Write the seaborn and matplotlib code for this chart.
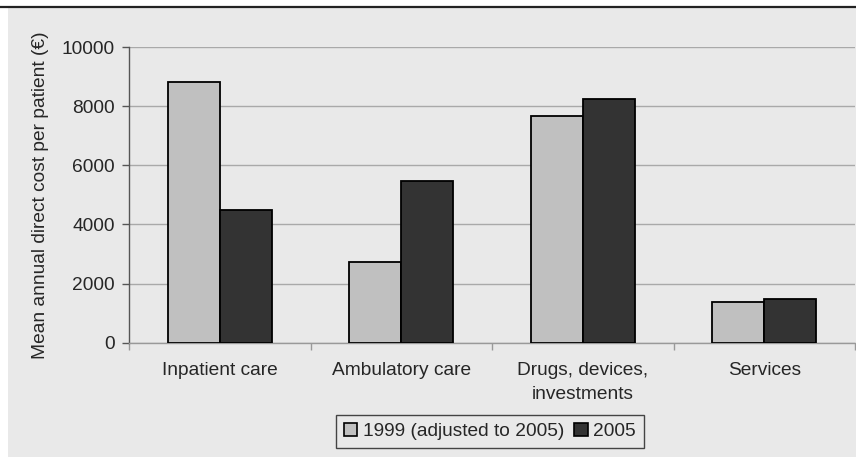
import matplotlib
matplotlib.use("Agg")
import matplotlib.pyplot as plt
from matplotlib.lines import Line2D
from matplotlib.patches import Rectangle, Patch
import seaborn as sns
import pandas as pd

categories = ["Inpatient care", "Ambulatory care", "Drugs, devices,\ninvestments", "Services"]
series_names = ["1999 (adjusted to 2005)", "2005"]
values_1999 = [8800, 2720, 7650, 1370]
values_2005 = [4490, 5480, 8240, 1480]
y_ticks = [0, 2000, 4000, 6000, 8000, 10000]

df = pd.DataFrame({
    "category": categories * 2,
    "year": [series_names[0]] * 4 + [series_names[1]] * 4,
    "cost": values_1999 + values_2005,
})

sns.set_style("white")
plt.rcParams["font.family"] = ["Liberation Sans", "DejaVu Sans"]

BG = "#e9e9e9"
FS = 13.8
colors = {series_names[0]: "#c0c0c0", series_names[1]: "#333333"}

fig = plt.figure(figsize=(8.56, 4.58), dpi=100)
fig.patch.set_facecolor("white")
# grey panel and top rule
fig.add_artist(Rectangle((8 / 856, 1 / 458), 848 / 856, 450 / 458,
                         transform=fig.transFigure, facecolor=BG, edgecolor="none", zorder=-10))
fig.add_artist(Line2D([0, 1], [451 / 458, 451 / 458], transform=fig.transFigure,
                      color="#222222", linewidth=1.6))

ax = fig.add_axes([129 / 856, (458 - 342.7) / 458, 726 / 856, 295.7 / 458])
ax.set_facecolor(BG)

sns.barplot(data=df, x="category", y="cost", hue="year", palette=colors,
            width=0.573, edgecolor="black", linewidth=1.3, legend=False, ax=ax, zorder=3)

ax.set_xlim(-0.5, 3.5)
ax.set_ylim(0, 10000)
ax.set_yticks(y_ticks)
ax.yaxis.grid(True, color="#a9a9a9", linewidth=1.0, zorder=0)
ax.set_axisbelow(True)

for s in ["top", "right"]:
    ax.spines[s].set_visible(False)
ax.spines["left"].set_color("#555555")
ax.spines["left"].set_linewidth(1.0)
ax.spines["bottom"].set_color("#999999")
ax.spines["bottom"].set_linewidth(1.0)

ax.tick_params(axis="y", which="major", length=5, width=1, color="#555555",
               labelsize=FS, pad=5, left=True)
ax.set_xticks(range(len(categories)))
ax.set_xticklabels(categories, linespacing=1.55)
ax.tick_params(axis="x", which="major", length=0, labelsize=FS, pad=14)
ax.set_xticks([-0.5, 0.5, 1.5, 2.5, 3.5], minor=True)
ax.tick_params(axis="x", which="minor", length=5, width=1, color="#999999", bottom=True)

ax.set_xlabel("")
ax.set_ylabel("Mean annual direct cost per patient (€)", fontsize=FS, labelpad=9)

handles = [Patch(facecolor=colors[n], edgecolor="black", linewidth=1.2) for n in series_names]
fig.legend(handles, series_names, loc="center", bbox_to_anchor=(490 / 856, (458 - 431.5) / 458),
           ncol=2, frameon=True, fancybox=False, edgecolor="#444444", facecolor=BG,
           fontsize=FS, handlelength=0.7, handleheight=0.7, handletextpad=0.3,
           columnspacing=0.5, borderpad=0.4, framealpha=1)

fig.savefig("out.png", dpi=100, facecolor="white")
